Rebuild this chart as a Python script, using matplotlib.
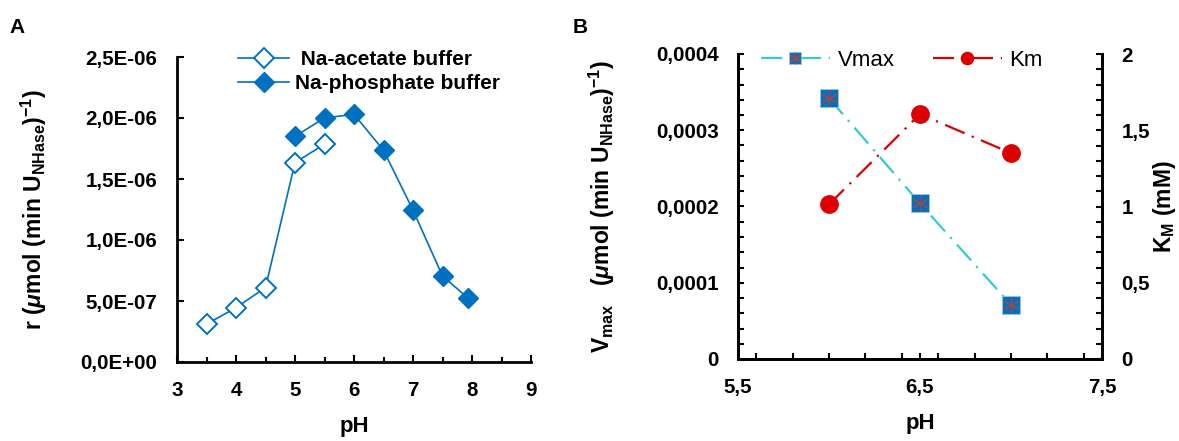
import matplotlib
matplotlib.use("Agg")
import matplotlib.pyplot as plt
from matplotlib.ticker import MultipleLocator, FuncFormatter, FixedLocator

# panel A: reaction rate vs pH
ph_acetate = [3.5, 4.0, 4.5, 5.0, 5.5]
r_acetate = [3.1e-7, 4.45e-7, 6.1e-7, 1.635e-6, 1.785e-6]
ph_phosphate = [5.0, 5.5, 6.0, 6.5, 7.0, 7.5, 7.93]
r_phosphate = [1.85e-6, 2.0e-6, 2.03e-6, 1.735e-6, 1.245e-6, 7.05e-7, 5.25e-7]

# panel B: kinetic parameters vs pH
ph_kin = [6.0, 6.5, 7.0]
vmax = [3.42e-4, 2.04e-4, 7.1e-5]
km = [1.014, 1.606, 1.35]

plt.rcParams["font.family"] = ["Liberation Sans", "DejaVu Sans"]
plt.rcParams["mathtext.fontset"] = "custom"
plt.rcParams["mathtext.rm"] = "Liberation Sans:bold"
plt.rcParams["mathtext.bf"] = "Liberation Sans:bold"
plt.rcParams["mathtext.it"] = "Liberation Sans:italic:bold"

W, H = 1179, 441
BLUE = "#0070C0"
CYAN = "#33CCCC"
RED = "#DD0000"
TICK_FS = 14.8
LAB_FS = 16.5


def comma(fmt):
    return FuncFormatter(lambda v, p: fmt(v).replace(".", ","))


def style_ticks(ax):
    ax.tick_params(which="both", direction="in", width=1.5, pad=14,
                   labelsize=TICK_FS)
    for lab in ax.get_xticklabels() + ax.get_yticklabels():
        lab.set_fontweight("bold")


fig = plt.figure(figsize=(W / 100, H / 100), dpi=100)

# ---- A ----
ax1 = fig.add_axes([177 / W, 1 - 362 / H, (531 - 177) / W, (362 - 57) / H])
ax1.plot(ph_acetate, r_acetate, "-D", color=BLUE, lw=1.2, ms=10,
         mfc="white", mec=BLUE, mew=1.4, label=" Na-acetate buffer", clip_on=False)
ax1.plot(ph_phosphate, r_phosphate, "-D", color=BLUE, lw=1.2, ms=10,
         mfc=BLUE, mec=BLUE, label="Na-phosphate buffer", clip_on=False)
ax1.set_xlim(3, 9)
ax1.set_ylim(0, 2.5e-6)
ax1.xaxis.set_major_locator(MultipleLocator(1))
ax1.xaxis.set_minor_locator(MultipleLocator(0.5))
ax1.yaxis.set_major_locator(MultipleLocator(5e-7))
ax1.xaxis.set_major_formatter(comma(lambda v: f"{v:g}"))
ax1.yaxis.set_major_formatter(comma(lambda v: f"{v:.1E}"))
for s in ("top", "right"):
    ax1.spines[s].set_visible(False)
for s in ("left", "bottom"):
    ax1.spines[s].set_linewidth(2)
style_ticks(ax1)
ax1.tick_params(which="major", length=5)
ax1.tick_params(which="minor", length=3.5)
ax1.set_xlabel("pH", fontsize=16, fontweight="bold", labelpad=11)
ax1.set_ylabel(r"r ($\mu$mol (min U$_{\mathrm{NHase}}$)$^{\mathrm{-1}}$)",
               fontsize=LAB_FS, fontweight="bold", labelpad=23)
ax1.legend(loc="upper left", bbox_to_anchor=(238 / W, 1 - 50 / H),
           bbox_transform=fig.transFigure, frameon=False, borderpad=0,
           borderaxespad=0, handlelength=2.45, handletextpad=0.3,
           labelspacing=0.25, prop={"size": 15, "weight": "bold"})

# ---- B ----
ax2 = fig.add_axes([738 / W, 1 - 359 / H, (1102 - 738) / W, (359 - 54) / H])
ax3 = ax2.twinx()
dash = (0, (9.5, 3.5, 1, 3.5))
lv, = ax2.plot(ph_kin, vmax, ls=dash, color=CYAN, lw=1.6, marker="s", ms=12.5,
               mfc=BLUE, mec="#9DC3E6", mew=0.6, zorder=3)
sv, = ax2.plot(ph_kin, vmax, ls="none", marker=(6, 2, 0), ms=12,
               mec="#A04848", mew=0.9, zorder=4)
lk, = ax3.plot(ph_kin, km, ls=dash, color=RED, lw=1.6, marker="o", ms=12.5,
               mfc=RED, mec=RED, zorder=3)
ax2.set_xlim(5.5, 7.5)
ax2.set_ylim(0, 4e-4)
ax3.set_ylim(0, 2)
ax2.xaxis.set_major_locator(FixedLocator([5.5, 6.5, 7.5]))
ax2.xaxis.set_minor_locator(MultipleLocator(0.2))
ax2.yaxis.set_major_locator(MultipleLocator(1e-4))
ax2.yaxis.set_minor_locator(MultipleLocator(2e-5))
ax3.yaxis.set_major_locator(MultipleLocator(0.5))
ax3.yaxis.set_minor_locator(MultipleLocator(0.1))
ax2.xaxis.set_major_formatter(comma(lambda v: f"{v:.1f}"))
ax2.yaxis.set_major_formatter(comma(lambda v: "0" if v == 0 else f"{v:.4f}"))
ax3.yaxis.set_major_formatter(comma(lambda v: f"{v:g}"))
for a in (ax2, ax3):
    a.spines["top"].set_visible(False)
    for s in ("left", "right", "bottom"):
        a.spines[s].set_linewidth(2)
    style_ticks(a)
    a.tick_params(which="both", length=4)
ax2.set_xlabel("pH", fontsize=16, fontweight="bold", labelpad=11)
ax2.set_ylabel(r"V$_{\mathrm{max}}$   ($\mu$mol (min U$_{\mathrm{NHase}}$)$^{\mathrm{-1}}$)",
               fontsize=LAB_FS, fontweight="bold", labelpad=28)
ax3.set_ylabel(r"K$_{\mathrm{M}}$ (mM)", fontsize=LAB_FS, fontweight="bold",
               rotation=90, labelpad=1)
ax2.legend([(lv, sv), lk], ["Vmax", "Km"], loc="upper left",
           bbox_to_anchor=(761 / W, 1 - 50 / H), bbox_transform=fig.transFigure,
           ncol=2, frameon=False, borderpad=0, borderaxespad=0,
           handlelength=3.1, handletextpad=0.36, columnspacing=1.7,
           markerscale=0.7, prop={"size": 16})

fig.text(9 / W, 1 - 33 / H, "A", fontsize=15, fontweight="bold")
fig.text(573 / W, 1 - 33 / H, "B", fontsize=15, fontweight="bold")

fig.savefig("out.png", dpi=100)
